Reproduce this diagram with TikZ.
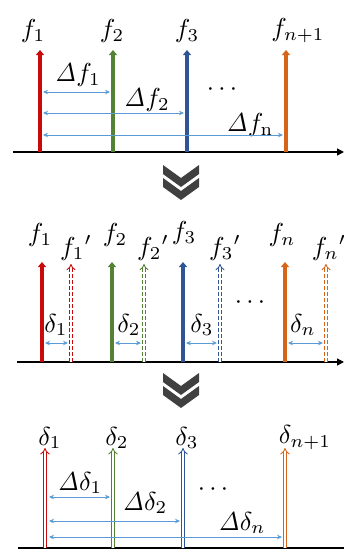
\documentclass[tikz,border=0pt]{standalone}
\usetikzlibrary{arrows.meta,calc}
\definecolor{cred}{RGB}{200,10,10}
\definecolor{cgreen}{RGB}{84,130,53}
\definecolor{cblue}{RGB}{47,85,151}
\definecolor{corange}{RGB}{215,100,25}
\definecolor{cmeas}{RGB}{91,155,213}
\definecolor{cchev}{RGB}{64,64,64}
\newcommand\mylab[1]{\scalebox{2.6}{$#1$}}
\begin{document}
\begin{tikzpicture}[x=1pt,y=-1pt,
  lbl/.style={inner sep=0pt},
  axisline/.style={line width=1.4pt,-{Triangle[length=7pt,width=7pt]}},
  solidarr/.style={line width=3.6pt,-{Triangle[length=5pt,width=8pt]}},
  dasharr/.style={line width=0.9pt,double=white,double distance=2.2pt,dash pattern=on 4pt off 2pt,-{Implies}},
  hollowarr/.style={line width=0.9pt,double=white,double distance=2.4pt,-{Implies}},
  meas/.style={color=cmeas,line width=0.9pt,{Stealth[length=5pt,width=4.5pt]}-{Stealth[length=5pt,width=4.5pt]}},
  chev/.style={fill=cchev,draw=none}]
\useasboundingbox (0,0) rectangle (344,552);

% ---------- panel 1 ----------
\coordinate (ax1s) at (13,152); \coordinate (ax1e) at (344,152);
\draw[axisline] (ax1s) -- (ax1e);
\foreach \n/\x/\c in {a/40/cred,b/113/cgreen,c/187/cblue,d/286/corange}{
  \coordinate (p1\n b) at (\x,152); \coordinate (p1\n t) at (\x,50);
  \draw[solidarr,\c] (p1\n b) -- (p1\n t);
}
\node[lbl] (lf1) at (33,31) {\mylab{f_1}};
\node[lbl] (lf2) at (112,31) {\mylab{f_2}};
\node[lbl] (lf3) at (187,31) {\mylab{f_3}};
\node[lbl] (lfn1) at (298,31) {\mylab{f_{n+1}}};
\node[lbl] (ldf1) at (78,75) {\mylab{\mathit{\Delta}f_1}};
\node[lbl] (ldf2) at (147,100) {\mylab{\mathit{\Delta}f_2}};
\node[lbl] (ldfn) at (250,125) {\mylab{\mathit{\Delta}f_{\mathrm{n}}}};
\node[lbl] (dots1) at (222,90) {\mylab{\cdots}};
\coordinate (m1a) at (43,92);  \coordinate (m1b) at (110,92);
\coordinate (m2a) at (43,113); \coordinate (m2b) at (184,113);
\coordinate (m3a) at (43,135); \coordinate (m3b) at (283,135);
\draw[meas] (m1a) -- (m1b);
\draw[meas] (m2a) -- (m2b);
\draw[meas] (m3a) -- (m3b);

% ---------- chevron 1 ----------
\foreach \y in {165,178}{
  \fill[chev] (163,\y) -- (181,\y+13) -- (199,\y) -- (199,\y+9) -- (181,\y+22) -- (163,\y+9) -- cycle;
}

% ---------- panel 2 ----------
\coordinate (ax2s) at (17,362); \coordinate (ax2e) at (344,362);
\draw[axisline] (ax2s) -- (ax2e);
\foreach \n/\x/\xx/\c in {a/42/71/cred,b/112/144/cgreen,c/183/220/cblue,d/285/326/corange}{
  \coordinate (p2\n b) at (\x,362); \coordinate (p2\n t) at (\x,262);
  \coordinate (q2\n b) at (\xx,362); \coordinate (q2\n t) at (\xx,264);
  \draw[solidarr,\c] (p2\n b) -- (p2\n t);
  \draw[dasharr,\c] (q2\n b) -- (q2\n t);
}
\node[lbl] (mf1) at (40,235) {\mylab{f_1}};
\node[lbl] (mf1p) at (76,248) {\mylab{f_1{}'}};
\node[lbl] (mf2) at (115,235) {\mylab{f_2}};
\node[lbl] (mf2p) at (153,248) {\mylab{f_2{}'}};
\node[lbl] (mf3) at (184,233) {\mylab{f_3}};
\node[lbl] (mf3p) at (225,248) {\mylab{f_3{}'}};
\node[lbl] (mfn) at (282,235) {\mylab{f_n}};
\node[lbl] (mfnp) at (329,248) {\mylab{f_n{}'}};
\node[lbl] (md1) at (56,325) {\mylab{\delta_1}};
\node[lbl] (md2) at (129,325) {\mylab{\delta_2}};
\node[lbl] (md3) at (202,325) {\mylab{\delta_3}};
\node[lbl] (mdn) at (303,325) {\mylab{\delta_n}};
\node[lbl] (dots2) at (250,303) {\mylab{\cdots}};
\coordinate (e1a) at (45,343);  \coordinate (e1b) at (68,343);
\coordinate (e2a) at (115,343); \coordinate (e2b) at (141,343);
\coordinate (e3a) at (186,343); \coordinate (e3b) at (217,343);
\coordinate (e4a) at (288,343); \coordinate (e4b) at (323,343);
\foreach \k in {1,2,3,4}{\draw[meas] (e\k a) -- (e\k b);}

% ---------- chevron 2 ----------
\foreach \y in {373,386}{
  \fill[chev] (163,\y) -- (181,\y+13) -- (199,\y) -- (199,\y+9) -- (181,\y+22) -- (163,\y+9) -- cycle;
}

% ---------- panel 3 ----------
\coordinate (ax3s) at (18,548); \coordinate (ax3e) at (344,548);
\draw[line width=1.4pt] (ax3s) -- (ax3e);
\foreach \n/\x/\c in {a/45/cred,b/113/cgreen,c/183/cblue,d/285/corange}{
  \coordinate (p3\n b) at (\x,548); \coordinate (p3\n t) at (\x,448);
  \draw[hollowarr,\c] (p3\n b) -- (p3\n t);
}
\node[lbl] (bd1) at (50,438) {\mylab{\delta_1}};
\node[lbl] (bd2) at (117,438) {\mylab{\delta_2}};
\node[lbl] (bd3) at (187,438) {\mylab{\delta_3}};
\node[lbl] (bdn1) at (305,438) {\mylab{\delta_{n+1}}};
\node[lbl] (bdd1) at (80,483) {\mylab{\mathit{\Delta}\delta_1}};
\node[lbl] (bdd2) at (145,503) {\mylab{\mathit{\Delta}\delta_2}};
\node[lbl] (bddn) at (242,523) {\mylab{\mathit{\Delta}\delta_n}};
\node[lbl] (dots3) at (213,490) {\mylab{\cdots}};
\coordinate (g1a) at (49,497);  \coordinate (g1b) at (110,497);
\coordinate (g2a) at (49,521);  \coordinate (g2b) at (180,521);
\coordinate (g3a) at (49,537);  \coordinate (g3b) at (282,537);
\draw[meas] (g1a) -- (g1b);
\draw[meas] (g2a) -- (g2b);
\draw[meas] (g3a) -- (g3b);
\end{tikzpicture}
\end{document}
